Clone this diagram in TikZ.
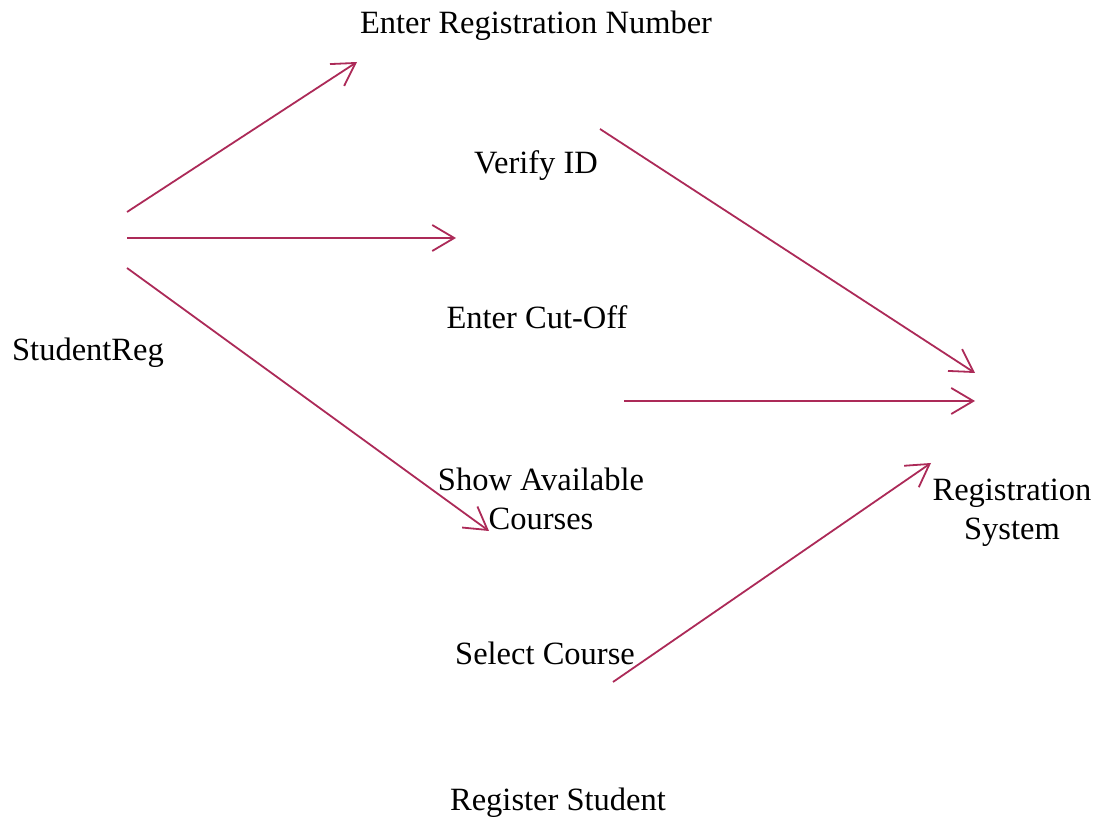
\documentclass[tikz,border=0pt]{standalone}
\usepackage{fontspec}
\setmainfont{Liberation Serif}
\usetikzlibrary{arrows.meta}
\definecolor{flowred}{RGB}{172,42,88}
\tikzset{
  label/.style={inner sep=0pt, align=center, text=black,
    font=\fontsize{32.5}{39}\selectfont},
  flow/.style={draw=flowred, line width=1.8pt,
    -{Straight Barb[length=22pt,width=26pt,line width=1.8pt]}}
}
\begin{document}
\begin{tikzpicture}[x=1pt,y=1pt]
  \useasboundingbox (0,0) rectangle (1097,819);
  % labels
  \node[label] (enter)   at (536,793) {Enter Registration Number};
  \node[label] (verify)  at (536,653) {Verify ID};
  \node[label] (cutoff)  at (537,502) {Enter Cut-Off};
  \node[label] (student) at (88,466)  {StudentReg};
  \node[label] (show)    at (541,320) {Show Available\\Courses};
  \node[label] (regsys)  at (1012,306) {Registration\\System};
  \node[label] (select)  at (545,166) {Select Course};
  \node[label] (register) at (558,16) {Register Student};
  % arrow end points
  \coordinate (s1) at (127,607);
  \coordinate (s2) at (127,581);
  \coordinate (s3) at (127,551);
  \coordinate (t1) at (357,757);
  \coordinate (t2) at (456,581);
  \coordinate (t3) at (489,288);
  \coordinate (v1) at (600,690);
  \coordinate (r1) at (975,446);
  \coordinate (c1) at (624,418);
  \coordinate (r2) at (975,418);
  \coordinate (k1) at (613,137);
  \coordinate (r3) at (931,356);
  % connectors
  \draw[flow] (s1) -- (t1);
  \draw[flow] (s2) -- (t2);
  \draw[flow] (s3) -- (t3);
  \draw[flow] (v1) -- (r1);
  \draw[flow] (c1) -- (r2);
  \draw[flow] (k1) -- (r3);
\end{tikzpicture}
\end{document}
